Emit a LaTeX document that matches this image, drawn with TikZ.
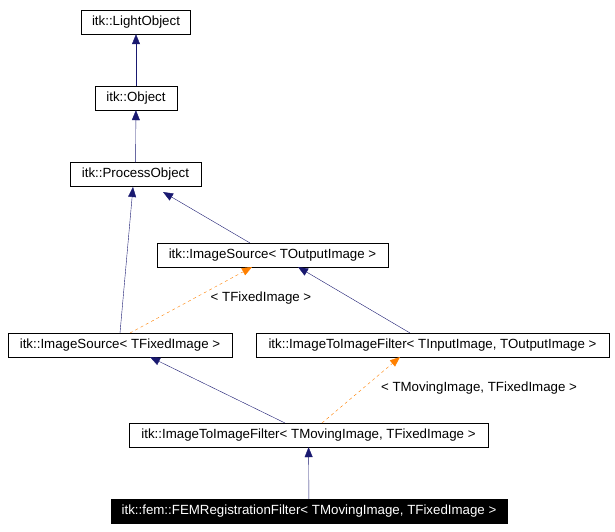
\documentclass[tikz,border=0pt]{standalone}
\usepackage{fontspec}
\setmainfont{Liberation Sans}
\usetikzlibrary{arrows.meta}
\begin{document}
\begin{tikzpicture}[x=1pt,y=-1pt,
  box/.style={draw=black,fill=white,minimum height=24pt,inner sep=0pt,font=\fontsize{13.3}{15}\selectfont,anchor=center},
  inh/.style={draw={rgb,255:red,25;green,25;blue,112},-{Triangle[open,fill={rgb,255:red,25;green,25;blue,112},length=10pt,width=8pt]}},
  tpl/.style={draw=orange,dashed,-{Triangle[open,fill=orange,length=10pt,width=8pt]}},
  lbl/.style={font=\fontsize{13.3}{15}\selectfont}]
\useasboundingbox (0,0) rectangle (615,532);
\node[box,minimum width=109pt] (lo) at (136,22) {itk::LightObject};
\node[box,minimum width=82pt] (ob) at (136,98) {itk::Object};
\node[box,minimum width=131pt] (po) at (135.5,174.5) {itk::ProcessObject};
\node[box,minimum width=231pt] (iso) at (272.5,255) {itk::ImageSource< TOutputImage >};
\node[box,minimum width=224pt] (isf) at (120,345) {itk::ImageSource< TFixedImage >};
\node[box,minimum width=353pt] (itio) at (432.5,345) {itk::ImageToImageFilter< TInputImage, TOutputImage >};
\node[box,minimum width=359pt] (itim) at (308.5,435) {itk::ImageToImageFilter< TMovingImage, TFixedImage >};
\node[box,minimum width=396pt,fill=black,text=white] (fem) at (309,511) {itk::fem::FEMRegistrationFilter< TMovingImage, TFixedImage >};
\coordinate (a1) at (120,333); \coordinate (a2) at (133,187);
\coordinate (b1) at (250,243); \coordinate (b2) at (163,192);
\coordinate (c1) at (130,333); \coordinate (c2) at (252,267);
\coordinate (d1) at (410,333); \coordinate (d2) at (298,267);
\coordinate (e1) at (285,423); \coordinate (e2) at (150,357);
\coordinate (f1) at (322,423); \coordinate (f2) at (400,357);
\draw[inh] (ob) -- (lo);
\draw[inh] (po) -- (ob);
\draw[inh] (a1) -- (a2);
\draw[inh] (b1) -- (b2);
\draw[tpl] (c1) -- (c2);
\node[lbl] (l1) at (261,298) {< TFixedImage >};
\draw[inh] (d1) -- (d2);
\draw[inh] (e1) -- (e2);
\draw[tpl] (f1) -- (f2);
\node[lbl] (l2) at (479,388) {< TMovingImage, TFixedImage >};
\draw[inh] (fem) -- (itim);
\end{tikzpicture}
\end{document}
